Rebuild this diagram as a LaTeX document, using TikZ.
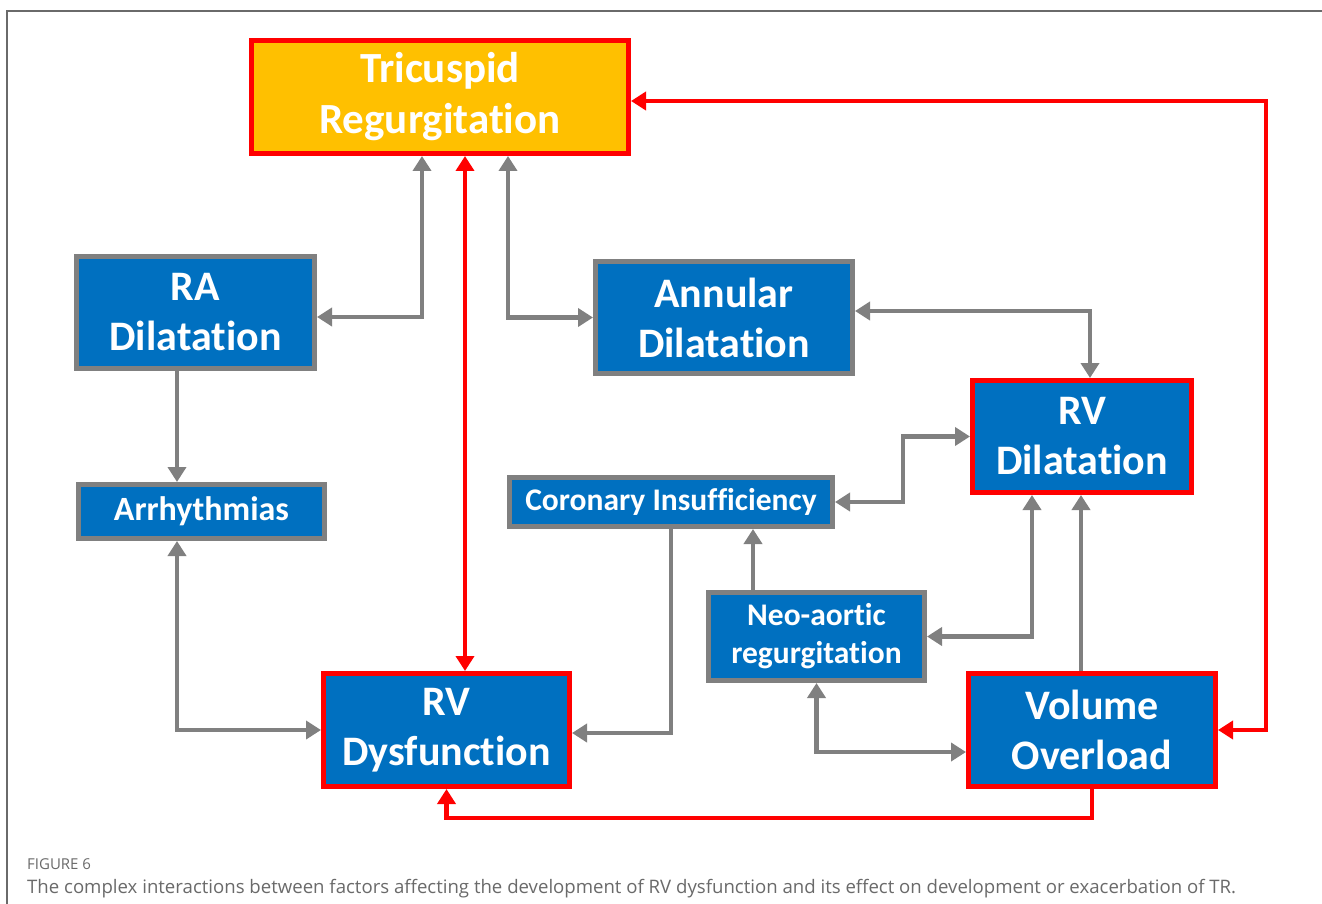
\documentclass[tikz,border=0pt]{standalone}
\usepackage{fontspec}
\setmainfont{Carlito}[Ligatures={NoCommon}]
\newfontfamily\capfont{Open Sans}
\usetikzlibrary{arrows.meta,calc}
\definecolor{boxblue}{HTML}{0070C0}
\definecolor{boxgold}{HTML}{FFC000}
\definecolor{linkgray}{HTML}{808080}
\definecolor{linkred}{HTML}{FF0000}
\definecolor{capgray}{HTML}{6A6A6A}
\tikzset{
  factor/.style={draw=linkgray, line width=5pt, fill=boxblue, text=white, font=\bfseries,
    align=center, inner sep=0pt},
  keyfactor/.style={factor, draw=linkred},
  bigtext/.style={font=\bfseries\fontsize{42}{50}\selectfont},
  midtext/.style={font=\bfseries\fontsize{31.5}{38}\selectfont},
  graylink/.style={draw=linkgray, line width=4.5pt, {Triangle[length=15pt,width=18pt]}-{Triangle[length=15pt,width=18pt]}},
  grayto/.style={draw=linkgray, line width=4.5pt, -{Triangle[length=15pt,width=18pt]}},
  redlink/.style={draw=linkred, line width=4.5pt, {Triangle[length=15pt,width=18pt]}-{Triangle[length=15pt,width=18pt]}},
  redto/.style={draw=linkred, line width=4.5pt, -{Triangle[length=15pt,width=18pt]}},
}
\begin{document}
\begin{tikzpicture}[x=1pt, y=-1pt]
  \useasboundingbox[fill=white] (0,0) rectangle (1322,904);
  % frame
  \draw[capgray, line width=1.2pt] (7,904) -- (7,11) -- (1322,11);

  % boxes
  \node (tr) [keyfactor, fill=boxgold, minimum width=377pt, minimum height=113pt,
    font=\bfseries\fontsize{43}{51}\selectfont] at (440,97) {Tricuspid\\Regurgitation};
  \node (ra) [factor, bigtext, minimum width=238pt, minimum height=112pt] at (195.5,312.5) {RA\\Dilatation};
  \node (annular) [factor, bigtext, minimum width=257pt, minimum height=112pt] at (724,317.5) {Annular\\Dilatation};
  \node (rvdil) [keyfactor, bigtext, minimum width=219pt, minimum height=112pt] at (1082,436.5) {RV\\Dilatation};
  \node (arr) [factor, font=\bfseries\fontsize{34}{40}\selectfont, minimum width=246pt, minimum height=54pt] at (201.5,511.5) {Arrhythmias};
  \node (cor) [factor, midtext, minimum width=323pt, minimum height=49pt] at (671,502) {Coronary Insufficiency};
  \node (neo) [factor, midtext, minimum width=216pt, minimum height=88pt] at (816.5,636.5) {Neo-aortic\\regurgitation};
  \node (rvdys) [keyfactor, bigtext, minimum width=246pt, minimum height=113pt] at (446.5,730) {RV\\Dysfunction};
  \node (vo) [keyfactor, bigtext, minimum width=247pt, minimum height=113pt] at (1092,730) {Volume\\Overload};

  % links
  \draw[graylink] ([yshift=-4.5pt]ra.east) -| ([xshift=-18pt]tr.south);
  \draw[redlink] ([xshift=25pt]tr.south) -- ([xshift=25pt]tr.south |- rvdys.north);
  \draw[graylink] ([xshift=68pt]tr.south) |- (annular.west);
  \draw[graylink] ([yshift=6.5pt]annular.east) -| ([xshift=8pt]rvdil.north);
  \draw[redlink] (vo.east) -- ++(48,0) |- ([yshift=-4pt]tr.east);
  \draw[redto] (vo.south) -- ++(0,29) -| (rvdys.south);
  \draw[grayto] ([xshift=-18.5pt]ra.south) -- ([xshift=-18.5pt]ra.south |- arr.north);
  \draw[graylink] ([xshift=-24.5pt]arr.south) |- (rvdys.west);
  \draw[grayto] (cor.south) |- ([yshift=-3pt]rvdys.east);
  \draw[grayto] ([xshift=-63.5pt]neo.north) -- ([xshift=-63.5pt]neo.north |- cor.south);
  \draw[graylink] (cor.east) -- ++(68,0) |- (rvdil.west);
  \draw[graylink] (neo.east) -| ([xshift=-50pt]rvdil.south);
  \draw[grayto] ([xshift=-11pt]vo.north) -- ([xshift=-11pt]vo.north |- rvdil.south);
  \draw[graylink] (neo.south) |- ([yshift=-22pt]vo.west);

  % caption
  \node (figlabel) [anchor=base west, inner sep=0pt, text=capgray, font=\capfont\fontsize{15}{17}\selectfont] at (27,869) {FIGURE 6};
  \node (figcaption) [anchor=base west, inner sep=0pt, text=capgray, font=\capfont\fontsize{18.6}{21}\selectfont] at (27,893)
    {The complex interactions between factors affecting the development of RV dysfunction and its effect on development or exacerbation of TR.};
\end{tikzpicture}
\end{document}
